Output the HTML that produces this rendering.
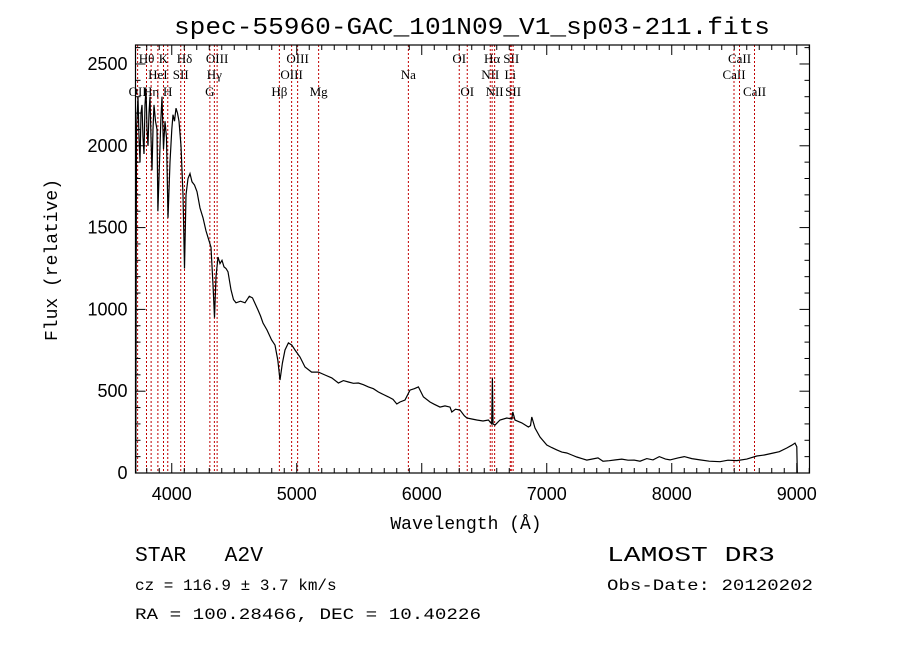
<!DOCTYPE html>
<html><head><meta charset="utf-8"><style>
body{margin:0;background:#fff;}
svg{display:block;font-family:"Liberation Sans",sans-serif;}
</style></head><body>
<svg id="chart" width="900" height="649" viewBox="0 0 900 649" xmlns="http://www.w3.org/2000/svg">
<rect width="900" height="649" fill="#fff"/>
<text x="472" y="34" font-size="24" text-anchor="middle" textLength="596" lengthAdjust="spacingAndGlyphs" font-family="Liberation Mono, monospace">spec-55960-GAC_101N09_V1_sp03-211.fits</text>
<g id="lines"></g>
<g id="axes"></g>
<path id="spec" fill="none" stroke="#000" stroke-width="1.2"/>
<text x="466" y="529" font-size="18" text-anchor="middle" font-family="Liberation Mono, monospace">Wavelength (Å)</text>
<text transform="translate(57,260) rotate(-90)" font-size="18" text-anchor="middle" font-family="Liberation Mono, monospace">Flux (relative)</text>
<text x="135" y="561" font-size="21" font-family="Liberation Mono, monospace" textLength="128" lengthAdjust="spacingAndGlyphs">STAR&#160;&#160;&#160;A2V</text>
<text x="607" y="561" font-size="21" font-family="Liberation Mono, monospace" textLength="168" lengthAdjust="spacingAndGlyphs">LAMOST DR3</text>
<text x="135" y="590" font-size="16" font-family="Liberation Mono, monospace">cz = 116.9 ± 3.7 km/s</text>
<text x="607" y="590" font-size="16" font-family="Liberation Mono, monospace" textLength="206" lengthAdjust="spacingAndGlyphs">Obs-Date: 20120202</text>
<text x="135" y="619" font-size="16" font-family="Liberation Mono, monospace" textLength="346" lengthAdjust="spacingAndGlyphs">RA = 100.28466, DEC =  10.40226</text>
</svg>
<script>
const wavelengths=[3712,3718,3730,3738,3746,3754,3762,3770,3778,3786,3794,3802,3810,3818,3826,3834,3842,3850,3858,3870,3882,3889,3902,3912,3922,3934,3946,3958,3970,3986,4000,4010,4022,4034,4046,4058,4074,4090,4102,4114,4130,4146,4162,4182,4202,4226,4250,4274,4298,4314,4330,4342,4354,4370,4386,4402,4418,4434,4450,4474,4494,4514,4550,4586,4620,4646,4670,4690,4710,4730,4762,4799,4826,4848,4866,4885,4906,4933,4960,4986,5026,5066,5119,5173,5226,5280,5333,5373,5413,5453,5493,5533,5573,5613,5653,5693,5733,5770,5800,5826,5866,5906,5940,5973,6013,6066,6100,6146,6186,6226,6240,6270,6306,6340,6360,6400,6440,6490,6533,6560,6565,6570,6586,6626,6680,6720,6728,6746,6800,6853,6870,6880,6906,6946,7000,7040,7080,7120,7160,7200,7240,7280,7320,7360,7410,7450,7500,7550,7600,7650,7700,7746,7800,7850,7900,7950,7986,8050,8100,8160,8226,8300,8386,8450,8520,8600,8680,8740,8813,8860,8920,8960,8986,9000,9004];
const fluxes=[0,2100,2300,2050,1900,2200,2250,2050,1950,2250,2350,2100,2000,2200,2300,2050,1850,2100,2250,2150,2100,1600,1900,2150,2300,1980,2150,2050,1560,1900,2100,2190,2150,2230,2200,2150,2000,1700,1250,1700,1800,1830,1780,1760,1720,1620,1560,1480,1420,1380,1150,950,1200,1320,1280,1300,1260,1250,1230,1120,1060,1040,1050,1040,1080,1070,1030,996,960,917,874,813,782,690,568,672,752,795,782,752,709,648,617,617,599,581,550,565,556,548,550,540,526,515,495,480,465,450,422,434,446,507,515,526,465,434,420,403,410,403,373,390,385,350,336,330,324,318,324,300,580,300,293,324,336,330,373,324,306,281,290,342,275,220,171,155,141,128,122,110,98,88,79,85,92,72,75,80,85,78,79,72,88,80,100,85,80,92,100,88,80,72,69,78,76,85,104,110,122,130,153,170,183,160,0];
const lineWaves=[3727,3798,3835,3889,3934,3968,4072,4102,4305,4341,4363,4861,4959,5007,5175,5893,6300,6364,6548,6563,6583,6708,6716,6731,8498,8542,8662];
const lineLabels=["OII","H\u03b8","H\u03b7","HeI","K","H","SII","H\u03b4","G","H\u03b3","OIII","H\u03b2","OIII","OIII","Mg","Na","OI","OI","NII","H\u03b1","NII","Li","SII","SII","CaII","CaII","CaII"];
const lineRows=[3,1,3,2,1,3,2,1,3,2,1,3,2,1,3,2,1,3,2,1,3,2,1,3,2,1,3];
const xTicks=[4000,5000,6000,7000,8000,9000];
const yTicks=[0,500,1000,1500,2000,2500];

const X0=135.5,X1=809.5,W0=3710,W1=9102,Y0=473,Y1=45,F0=0,F1=2616;
function sx(w){return X0+(w-W0)/(W1-W0)*(X1-X0);}
function sy(f){return Y0-(f-F0)/(F1-F0)*(Y0-Y1);}
const NS="http://www.w3.org/2000/svg";
function mk(tag,attrs,parent){const e=document.createElementNS(NS,tag);for(const k in attrs)e.setAttribute(k,attrs[k]);parent.appendChild(e);return e;}

let d="";
for(let i=0;i<wavelengths.length;i++){d+=(i?"L":"M")+sx(wavelengths[i]).toFixed(1)+","+sy(fluxes[i]).toFixed(1);}
document.getElementById("spec").setAttribute("d",d);

const lg=document.getElementById("lines");
const rowY={1:63,2:79,3:96};
for(let i=0;i<lineWaves.length;i++){
  const x=sx(lineWaves[i]);
  const l=mk("line",{x1:x,x2:x,y1:Y1,y2:Y0,stroke:"#c00000","stroke-width":1,"stroke-dasharray":"2,2"},lg);
  
  
  const t=mk("text",{x:x,y:rowY[lineRows[i]],"font-size":13,"text-anchor":"middle","font-family":"Liberation Serif, serif"},lg);
  t.textContent=lineLabels[i];
  
  
}

const ax=document.getElementById("axes");
const box=mk("rect",{x:X0,y:Y1,width:X1-X0,height:Y0-Y1,fill:"none",stroke:"#000","stroke-width":1.2},ax);


for(let w=3800;w<=9100;w+=100){
  const x=sx(w);const major=w%1000===0;const len=major?10:5;
  mk("line",{x1:x,x2:x,y1:Y0,y2:Y0-len,stroke:"#000"},ax);
  mk("line",{x1:x,x2:x,y1:Y1,y2:Y1+len,stroke:"#000"},ax);
}
for(const w of xTicks){
  const t=mk("text",{x:sx(w),y:Y0+27,"font-size":18,"text-anchor":"middle"},ax);
  t.textContent=w;
  
  
}
for(let f=100;f<=2600;f+=100){
  const y=sy(f);const major=f%500===0;const len=major?10:5;
  mk("line",{x1:X0,x2:X0+len,y1:y,y2:y,stroke:"#000"},ax);
  mk("line",{x1:X1,x2:X1-len,y1:y,y2:y,stroke:"#000"},ax);
}
for(const f of yTicks){
  const t=mk("text",{x:X0-8,y:sy(f)+6,"font-size":18,"text-anchor":"end"},ax);
  t.textContent=f;
  
  
}
</script>
</body></html>
